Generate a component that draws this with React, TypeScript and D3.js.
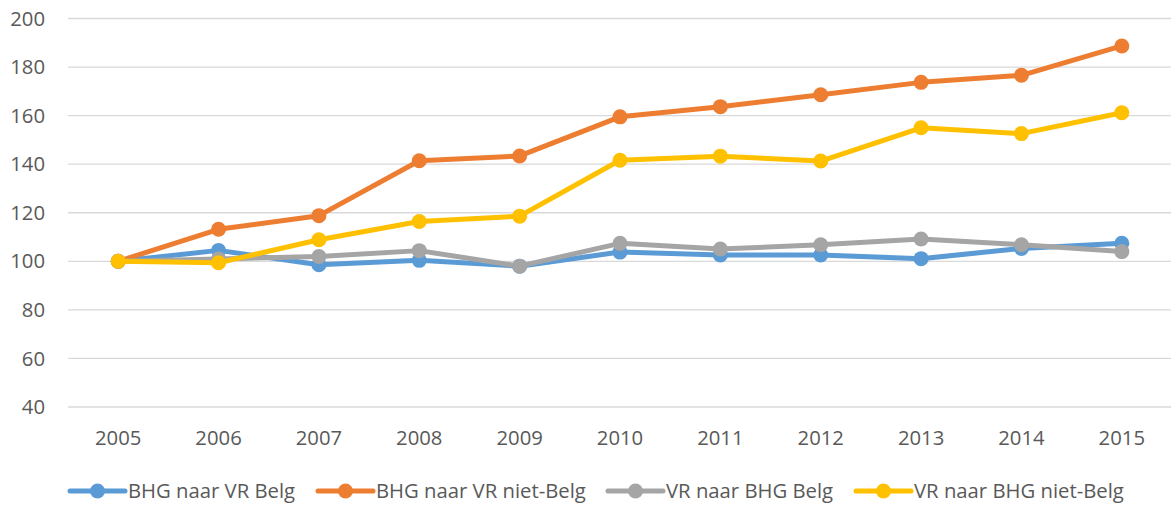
import { useEffect, useRef } from 'react'
import * as d3 from 'd3'

// jaren op de x-as, indexcijfers (2005 = 100) per reeks
const YEARS = ['2005', '2006', '2007', '2008', '2009', '2010', '2011', '2012', '2013', '2014', '2015']
const Y_TICKS = [40, 60, 80, 100, 120, 140, 160, 180, 200]

const BHG_VR_BELG = [100, 104.5, 98.6, 100.4, 98, 103.8, 102.6, 102.6, 101.1, 105.3, 107.4]
const BHG_VR_NIET_BELG = [100, 113.2, 118.8, 141.4, 143.4, 159.5, 163.7, 168.6, 173.7, 176.6, 188.7]
const VR_BHG_BELG = [100, 101, 102, 104.4, 98, 107.4, 105.1, 106.8, 109.2, 106.8, 104]
const VR_BHG_NIET_BELG = [100, 99.4, 108.9, 116.4, 118.6, 141.6, 143.3, 141.3, 155, 152.6, 161.2]

const SERIES = [
  { name: 'BHG naar VR Belg', values: BHG_VR_BELG, color: '#5B9BD5' },
  { name: 'BHG naar VR niet-Belg', values: BHG_VR_NIET_BELG, color: '#ED7D31' },
  { name: 'VR naar BHG Belg', values: VR_BHG_BELG, color: '#A5A5A5' },
  { name: 'VR naar BHG niet-Belg', values: VR_BHG_NIET_BELG, color: '#FFC000' },
]

const LEGEND_X = [70, 318, 608, 856]

export default function App() {
  const ref = useRef<SVGSVGElement>(null)

  useEffect(() => {
    const W = 1171, H = 505
    const M = { top: 18.5, left: 68, right: -1, bottom: 98 }
    const font = '"Open Sans", sans-serif'
    const fs = 20.3
    const svg = d3.select(ref.current)
    svg.selectAll('*').remove()
    svg.attr('width', W).attr('height', H)

    const x = d3.scaleBand().domain(YEARS).range([M.left, W - M.right])
    const y = d3.scaleLinear().domain([40, 200]).range([H - M.bottom, M.top])

    // rasterlijnen
    svg.append('g').selectAll('line').data(Y_TICKS).join('line')
      .attr('x1', M.left).attr('x2', W)
      .attr('y1', d => y(d)).attr('y2', d => y(d))
      .attr('stroke', '#D9D9D9').attr('stroke-width', 1.3)

    svg.append('g').selectAll('text').data(Y_TICKS).join('text')
      .attr('x', 45).attr('y', d => y(d)).attr('dy', '0.35em')
      .attr('text-anchor', 'end').attr('font-family', font).attr('font-size', fs)
      .attr('fill', '#595959').text(d => d)

    svg.append('g').selectAll('text').data(YEARS).join('text')
      .attr('x', d => x(d)! + x.bandwidth() / 2).attr('y', 438).attr('dy', '0.35em')
      .attr('text-anchor', 'middle').attr('font-family', font).attr('font-size', fs)
      .attr('fill', '#595959').text(d => d)

    const line = d3.line<number>()
      .x((d, i) => x(YEARS[i])! + x.bandwidth() / 2)
      .y(d => y(d))

    SERIES.forEach(s => {
      const g = svg.append('g')
      g.append('path').datum(s.values)
        .attr('fill', 'none').attr('stroke', s.color).attr('stroke-width', 5)
        .attr('stroke-linejoin', 'round').attr('stroke-linecap', 'round').attr('d', line)
      g.selectAll('circle').data(s.values).join('circle')
        .attr('cx', (d, i) => x(YEARS[i])! + x.bandwidth() / 2).attr('cy', d => y(d))
        .attr('r', 7.5).attr('fill', s.color)
    })

    // legenda
    const ly = 491
    SERIES.forEach((s, i) => {
      const lx = LEGEND_X[i]
      const g = svg.append('g')
      g.append('line').attr('x1', lx).attr('x2', lx + 55).attr('y1', ly).attr('y2', ly)
        .attr('stroke', s.color).attr('stroke-width', 5).attr('stroke-linecap', 'round')
      g.append('circle').attr('cx', lx + 27.5).attr('cy', ly).attr('r', 7.5).attr('fill', s.color)
      g.append('text').attr('x', lx + 58).attr('y', ly).attr('dy', '0.35em')
        .attr('font-family', font).attr('font-size', fs).attr('fill', '#595959').text(s.name)
    })
  }, [])

  return (
    <div style={{ position: 'absolute', left: 0, top: 0, background: '#fff' }}>
      <svg ref={ref} style={{ display: 'block' }} />
    </div>
  )
}
